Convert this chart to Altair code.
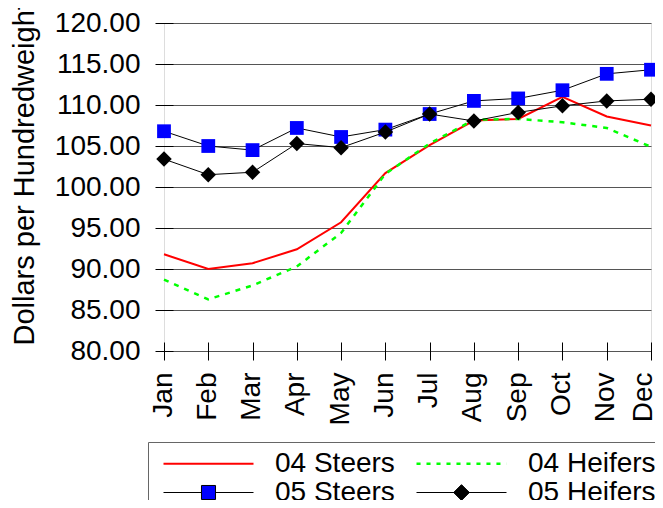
import altair as alt
import pandas as pd

months = ["Jan", "Feb", "Mar", "Apr", "May", "Jun", "Jul", "Aug", "Sep", "Oct", "Nov", "Dec"]
series_names = ["04 Steers", "04 Heifers", "05 Steers", "05 Heifers"]
steers04 = [91.8, 90.0, 90.7, 92.4, 95.7, 101.7, 105.1, 108.1, 108.3, 111.0, 108.6, 107.5]
heifers04 = [88.7, 86.3, 88.0, 90.3, 94.4, 101.6, 105.3, 108.2, 108.3, 107.9, 107.2, 104.9]
steers05 = [106.8, 105.0, 104.5, 107.2, 106.1, 107.0, 108.9, 110.5, 110.8, 111.8, 113.8, 114.3]
heifers05 = [103.4, 101.5, 101.8, 105.3, 104.8, 106.7, 108.9, 108.05, 109.1, 109.9, 110.5, 110.7]
y_ticks = [80, 85, 90, 95, 100, 105, 110, 115, 120]

values = [steers04, heifers04, steers05, heifers05]
rows = []
for name, vals in zip(series_names, values):
    for m, v in zip(months, vals):
        rows.append({"month": m, "series": name, "value": v})
df = pd.DataFrame(rows)

FONT = "Liberation Sans"

x_enc = alt.X(
    "month:O", sort=months,
    scale=alt.Scale(type="point", padding=0),
    axis=alt.Axis(title=None, labelAngle=-90, labelFontSize=28, labelFont=FONT,
                  labelColor="black", tickSize=18, offset=-9, tickColor="black",
                  domain=False, labelPadding=12, labelOverlap=False, labelFlush=False,
                  labelOffset={"condition": {"test": "datum.value == 'Dec'", "value": -8}, "value": -1},
                  grid=False),
)
y_enc = alt.Y(
    "value:Q",
    scale=alt.Scale(domain=[80, 120], nice=False, zero=False),
    axis=alt.Axis(values=y_ticks, format=".2f", labelFontSize=28, labelFont=FONT,
                  labelColor="black", tickSize=18, offset=-9, tickColor="black",
                  domain=False, labelPadding=15, grid=True, gridColor="#555555",
                  gridWidth=1, labelOverlap=False, labelFlush=False,
                  title="Dollars per Hundredweight", titleFontSize=29, titleFont=FONT,
                  titleFontWeight="normal", titleColor="black", titleAngle=-90,
                  titleAlign="left", titleBaseline="alphabetic", titleX=-140, titleY=322),
)

base = alt.Chart(df)

def sel(name):
    return base.transform_filter(alt.datum.series == name)

l_s04 = sel("04 Steers").mark_line(color="#FF0000", strokeWidth=2).encode(x=x_enc, y=y_enc)
l_h04 = sel("04 Heifers").mark_line(color="#00FF00", strokeWidth=2.5, strokeDash=[5, 6]).encode(x=x_enc, y=y_enc)
l_s05 = sel("05 Steers").mark_line(color="black", strokeWidth=1).encode(x=x_enc, y=y_enc)
p_s05 = sel("05 Steers").mark_point(shape="square", filled=True, color="#0000FF", size=190, opacity=1).encode(x=x_enc, y=y_enc)
l_h05 = sel("05 Heifers").mark_line(color="black", strokeWidth=1).encode(x=x_enc, y=y_enc)
p_h05 = sel("05 Heifers").mark_point(shape="diamond", filled=True, color="black", size=240, opacity=1).encode(x=x_enc, y=y_enc)

# legend symbols (unit paths, -1..1; 1 unit = 45 px)
dash_parts = []
pos = -1.0
while pos < 1.0:
    end = min(pos + 0.09, 1.0)
    dash_parts.append(f"M{pos:.3f},-0.028H{end:.3f}V0.028H{pos:.3f}Z")
    pos += 0.222
shape_paths = [
    "M-1,-0.022H1V0.022H-1Z",
    "".join(dash_parts),
    "M-1,0H-0.156M0.156,0H1M-0.156,-0.156H0.156V0.156H-0.156Z",
    "M-1,0H1M0,-0.175L0.175,0L0,0.175L-0.175,0Z",
]
fill_colors = ["#FF0000", "#00FF00", "#0000FF", "black"]
stroke_colors = ["transparent", "transparent", "black", "black"]

legend = alt.Legend(
    title=None, orient="none", legendX=-16, legendY=419, columns=2,
    direction="horizontal",
    labelFontSize=28, labelFont=FONT, labelColor="black",
    symbolSize=8100, clipHeight=23, rowPadding=0, columnPadding=16,
    labelOffset=21, symbolOffset=5, padding=10,
    strokeColor="#666666", symbolStrokeWidth=1,
)

leg_layer = base.transform_filter("datum.value > 1000").mark_point(opacity=1, filled=True).encode(
    fill=alt.Fill("series:N", scale=alt.Scale(domain=series_names, range=fill_colors), legend=legend),
    stroke=alt.Stroke("series:N", scale=alt.Scale(domain=series_names, range=stroke_colors), legend=legend),
    shape=alt.Shape("series:N", scale=alt.Scale(domain=series_names, range=shape_paths), legend=legend),
)

chart = alt.layer(l_s04, l_h04, l_s05, p_s05, l_h05, p_h05, leg_layer).properties(
    width=487, height=328,
    autosize=alt.AutoSizeParams(type="none"),
    padding={"left": 156, "top": 15, "right": 4, "bottom": 149},
).configure_view(stroke="black", strokeWidth=1).configure(background="white")

chart.save("out.html", embed_options={"renderer": "svg", "actions": False})
